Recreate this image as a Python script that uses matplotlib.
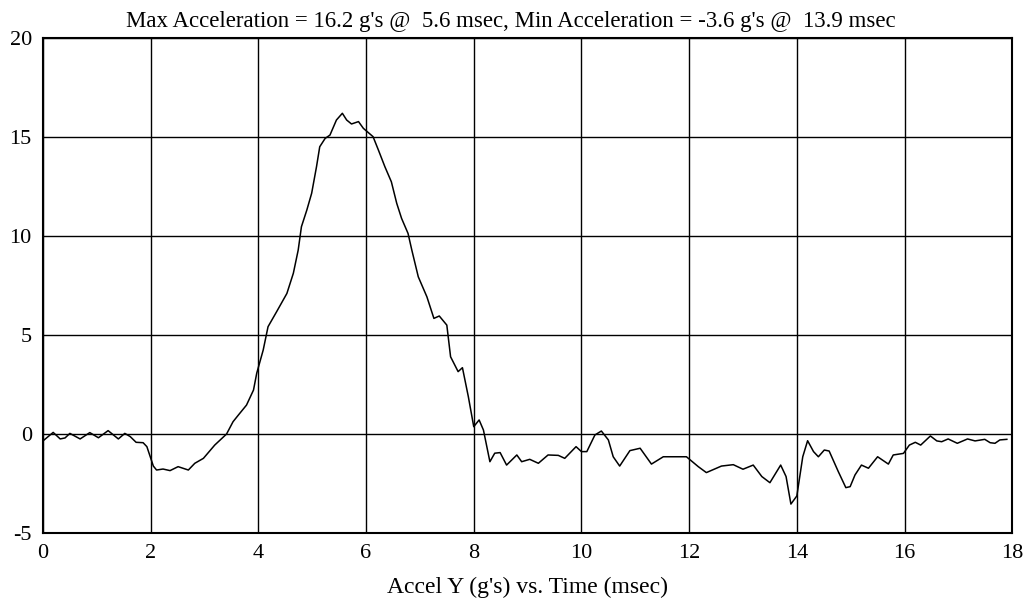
import numpy as np
import matplotlib
matplotlib.use('Agg')
import matplotlib.pyplot as plt

# time (msec) and acceleration (g's)
t_ms = [0.0, 0.19, 0.32, 0.41, 0.5, 0.69, 0.87, 1.03, 1.21, 1.4, 1.52, 1.62, 1.73, 1.86,
        1.93, 2.05, 2.11, 2.23, 2.36, 2.51, 2.7, 2.82, 2.98, 3.19, 3.41, 3.53, 3.63, 3.78,
        3.91, 3.97, 4.09, 4.18, 4.34, 4.53, 4.65, 4.74, 4.8, 4.9, 4.99, 5.08, 5.14, 5.24, 5.33,
        5.45, 5.56, 5.64, 5.73, 5.86, 5.95, 6.13, 6.23, 6.35, 6.47, 6.57, 6.66, 6.78, 6.85,
        6.97, 7.13, 7.26, 7.36, 7.5, 7.57, 7.71, 7.79, 7.9, 8.0, 8.1, 8.18, 8.3, 8.39, 8.49,
        8.61, 8.8, 8.89, 9.04, 9.2, 9.38, 9.57, 9.69, 9.9, 10.0, 10.1, 10.25, 10.37, 10.5,
        10.59, 10.71, 10.9, 11.09, 11.3, 11.52, 11.95, 12.17, 12.32, 12.6, 12.82, 13.0,
        13.19, 13.35, 13.5, 13.7, 13.8, 13.89, 14.0, 14.11, 14.2, 14.31, 14.4, 14.51, 14.6,
        14.77, 14.91, 14.99, 15.08, 15.2, 15.33, 15.5, 15.7, 15.79, 15.98, 16.09, 16.2,
        16.3, 16.48, 16.6, 16.69, 16.81, 16.98, 17.17, 17.31, 17.49, 17.59, 17.68, 17.77,
        17.9]
accel_g = [-0.35, 0.08, -0.25, -0.2, 0.03, -0.25, 0.07, -0.19, 0.17, -0.25, 0.03, -0.13,
           -0.42, -0.44, -0.64, -1.62, -1.82, -1.77, -1.85, -1.65, -1.82, -1.48, -1.23,
           -0.56, 0.0, 0.62, 0.96, 1.46, 2.22, 3.07, 4.24, 5.42, 6.18, 7.1, 8.12, 9.29, 10.47,
           11.31, 12.16, 13.5, 14.51, 14.93, 15.1, 15.86, 16.2, 15.86, 15.66, 15.78, 15.44,
           15.02, 14.34, 13.5, 12.74, 11.65, 10.89, 10.13, 9.29, 7.94, 6.93, 5.84, 5.96,
           5.5, 3.9, 3.15, 3.35, 1.88, 0.37, 0.71, 0.2, -1.4, -0.97, -0.94, -1.57, -1.06,
           -1.4, -1.28, -1.48, -1.06, -1.08, -1.23, -0.64, -0.89, -0.89, -0.05, 0.15, -0.3,
           -1.15, -1.62, -0.84, -0.72, -1.52, -1.15, -1.15, -1.65, -1.95, -1.62, -1.55,
           -1.78, -1.57, -2.15, -2.46, -1.57, -2.15, -3.54, -3.13, -1.15, -0.34, -0.89,
           -1.15, -0.81, -0.86, -1.9, -2.71, -2.66, -2.07, -1.57, -1.73, -1.15, -1.52, -1.06,
           -0.98, -0.56, -0.42, -0.56, -0.1, -0.35, -0.39, -0.25, -0.47, -0.25, -0.35, -0.27,
           -0.44, -0.47, -0.3, -0.27]

xticks = [0, 2, 4, 6, 8, 10, 12, 14, 16, 18]
yticks = [-5, 0, 5, 10, 15, 20]
title = "Max Acceleration = 16.2 g's @  5.6 msec, Min Acceleration = -3.6 g's @  13.9 msec"
xlabel = "Accel Y (g's) vs. Time (msec)"

plt.rcParams['font.family'] = ['Liberation Serif', 'DejaVu Serif']
plt.rcParams['axes.unicode_minus'] = False

fig = plt.figure(figsize=(10.35, 6.08), dpi=100)
ax = fig.add_axes([0.0415, 0.1234, 0.9365, 0.814])
ax.plot(t_ms, accel_g, color='black', linewidth=1.1)
ax.set_xlim(0, 18)
ax.set_ylim(-5, 20)
ax.set_xticks(xticks)
ax.set_yticks(yticks)
ax.tick_params(length=0, labelsize=16, colors='black')
ax.tick_params(axis='x', pad=8)
ax.tick_params(axis='y', pad=8)
ax.grid(True, color='black', linewidth=1.0)
ax.set_axisbelow(True)
for sp in ax.spines.values():
    sp.set_linewidth(1.5)
ax.set_title(title, fontsize=16.5, pad=8, x=0.483)
ax.set_xlabel(xlabel, fontsize=17, labelpad=10)

fig.savefig('out.png', dpi=100)
